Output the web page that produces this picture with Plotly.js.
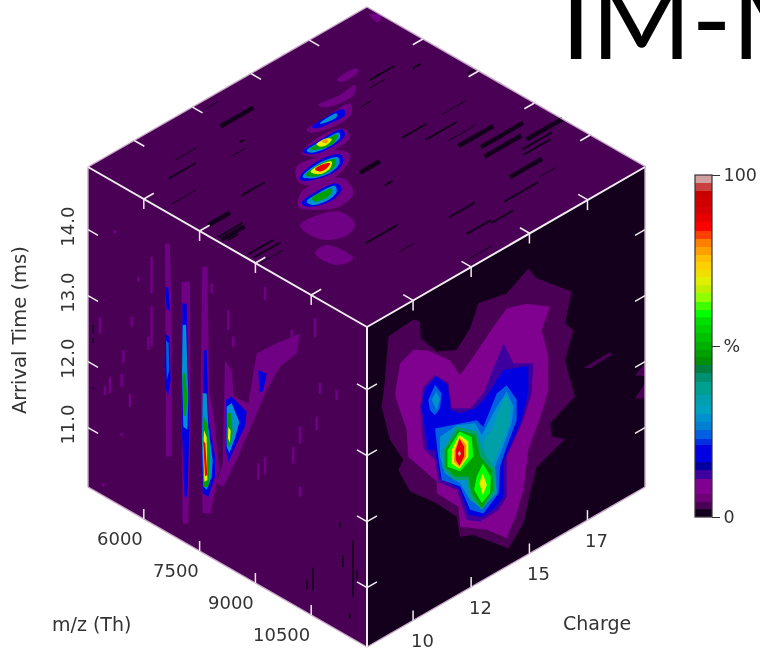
<!DOCTYPE html>
<html><head><meta charset="utf-8">
<script src="https://cdn.plot.ly/plotly-3.0.1.min.js"></script>
<style>html,body{margin:0;padding:0;background:#fff;overflow:hidden}#p{width:760px;height:650px;filter:blur(0.6px)}</style>
</head><body><div id="p"></div>
<script>
// Axis extents
const mzRange=[4500,12000], chargeRange=[8.15,19.31], timeRange=[10.1,14.95];
const mzTicks=[6000,7500,9000,10500];
const chargeTicks=[10,12.33,14.67,17], chargeLabels=['10','12','15','17'];
const timeTicks=[11,12,13,14], timeLabels=['11.0','12.0','13.0','14.0'];

// Colour bar
const bandEdges=[0,2.4,4.4,6.8,11.2,13.7,16.1,21,22.9,25.4,27.8,30.2,32.7,35.6,39.5,42,44.4,46.8,48.8,51.2,53.7,56.1,58.5,60.5,62.9,65.4,67.8,70.2,72.2,74.6,76.7,79,81.2,83.7,86.3,88.5,90.7,93.2,95.3,97.6,100];
const bandColors=['#14001c','#4a0055','#700078','#800090','#3d009f','#0000a0','#0000e0','#0030e0','#0060e0','#0080d0','#0090d0','#00a0c0','#00a0b0','#00a090','#009070','#008040','#009000','#00a000','#00b000','#00c000','#00d000','#00e000','#00ff00','#40ff00','#90ff00','#c0f000','#e0f000','#f0e000','#ffd000','#ffc000','#ffa000','#ff8000','#ff4000','#ff0000','#e80000','#d80000','#d00000','#c80000','#c84040','#d0a0a0'];

// Charge / arrival time contours, [charge, ms]
const ctOuter=[[[9.01,14.62],[10.01,14.66],[10.28,14.57],[10.31,14.31],[10.95,13.97],[11.75,13.82],[12.29,14.03],[12.62,14.34],[13.76,14.24],[14.63,14.43],[14.96,14.21],[16.37,13.70],[16.10,13.28],[16.44,13.10],[16.10,12.72],[16.50,12.08],[15.50,11.89],[15.57,11.68],[16.10,11.52],[14.96,11.35],[14.70,11.01],[14.43,10.61],[13.83,10.36],[12.42,10.87],[11.89,10.96],[11.75,11.29],[10.95,11.67],[9.88,12.08],[9.41,12.51],[9.61,12.62],[9.07,13.04],[8.74,13.61],[8.87,13.99]],
 [[16.84,12.44],[17.91,12.45],[17.98,12.39],[17.11,12.38]],
 [[18.91,11.88],[19.31,11.97],[19.31,11.78]],
 [[18.91,11.53],[19.31,11.67],[19.31,11.44]]];
const ctPurple=[[[9.48,14.11],[10.01,14.20],[10.61,14.06],[11.48,13.72],[11.89,13.41],[12.42,13.57],[13.22,13.85],[13.76,14.01],[14.56,13.91],[15.50,13.66],[15.16,13.38],[15.43,12.92],[15.43,12.41],[15.16,12.12],[14.63,11.68],[14.43,11.12],[14.16,10.82],[13.76,10.53],[12.96,10.83],[11.89,11.11],[11.82,11.43],[10.95,11.82],[10.95,12.00],[9.81,12.62],[9.74,13.04],[9.34,13.58],[9.28,13.70]]];
const ctIndigo=[[[10.28,13.28],[10.41,13.55],[10.88,13.63],[11.42,13.39],[11.55,12.98],[12.29,12.82],[12.82,12.93],[13.63,13.51],[14.03,13.12],[14.83,12.95],[14.76,12.51],[14.43,12.18],[13.76,11.77],[13.76,11.16],[13.43,11.03],[12.69,11.01],[12.15,11.16],[11.75,11.70],[11.01,11.98],[10.88,12.34],[10.41,12.62]]];
const ctBlue=[[[10.35,13.24],[10.48,13.51],[10.95,13.59],[11.38,13.37],[11.51,12.96],[11.89,12.83],[12.49,12.77],[12.89,12.84],[13.63,13.11],[14.63,12.95],[14.63,12.54],[14.30,12.15],[13.63,11.74],[13.63,11.19],[13.29,11.09],[12.76,11.07],[12.22,11.22],[11.89,11.67],[11.08,12.04],[10.88,12.49],[10.61,12.55]]];
const ctMidBlue=[[[10.61,13.31],[10.88,13.48],[11.15,13.29],[11.08,13.08],[10.88,13.02],[10.68,13.14]],
 [[10.88,12.82],[11.89,12.68],[12.55,12.58],[12.82,12.42],[13.36,12.81],[13.76,12.85],[14.16,12.54],[14.16,12.23],[13.76,11.92],[13.49,11.67],[13.43,11.28],[12.82,11.11],[12.29,11.28],[11.89,11.72],[11.15,11.98],[11.01,12.36]]];
const ctTeal=[[[10.75,13.28],[10.92,13.37],[11.08,13.23],[10.95,13.08]],
 [[11.08,12.65],[11.75,12.68],[12.49,12.55],[12.76,12.31],[13.36,12.61],[13.76,12.75],[14.03,12.47],[13.96,12.23],[13.56,11.91],[13.29,11.72],[13.36,11.30],[12.76,11.20],[12.29,11.43],[11.89,11.77],[11.28,12.05],[11.08,12.35]]];
const ctTealCore=[[[13.16,12.30],[13.49,12.58],[13.73,12.71],[13.92,12.49],[13.87,12.25],[13.49,11.98],[13.22,11.78],[12.85,11.96],[12.85,12.22]]];
const ctSeaGreen=[[[11.19,12.42],[11.75,12.66],[12.55,12.41],[12.85,12.01],[13.29,11.69],[13.33,11.33],[12.76,11.18],[12.29,11.45],[12.15,11.76],[11.62,11.88],[11.19,12.15]]];
const ctGreen=[[[11.28,12.40],[11.82,12.59],[12.49,12.37],[12.69,12.00],[13.16,11.69],[13.22,11.38],[12.76,11.20],[12.35,11.52],[12.22,11.80],[11.69,11.91],[11.28,12.15]]];
const ctLime=[[[11.38,12.38],[11.86,12.56],[12.35,12.37],[12.42,12.06],[11.89,11.95],[11.38,12.13]],
 [[12.55,11.72],[12.80,11.87],[13.12,11.60],[13.09,11.36],[12.76,11.28],[12.45,11.55]]];
const ctYellow=[[[11.55,12.35],[11.86,12.51],[12.22,12.33],[12.22,12.10],[11.86,11.99],[11.55,12.14]],
 [[12.66,11.60],[12.80,11.72],[12.96,11.51],[12.80,11.39]]];
const ctOrange=[[[11.66,12.32],[11.86,12.47],[12.13,12.30],[12.13,12.12],[11.86,12.02],[11.64,12.15]]];
const ctRed=[[[11.71,12.31],[11.86,12.45],[12.05,12.29],[12.05,12.14],[11.86,12.04],[11.71,12.16]]];
const ctPeak=[[[11.79,12.24],[11.86,12.27],[11.93,12.21],[11.86,12.18]]];

// m/z / arrival time contours, [m/z, ms]
const mtPurple=[[[6570,14.46],[6704,14.50],[6749,13.21],[6749,11.29],[6597,11.24],[6570,13.15]],
 [[7018,14.02],[7242,14.10],[7260,11.86],[7197,10.42],[7045,10.37],[7018,11.78]],
 [[7573,14.43],[7708,14.47],[7761,12.62],[7887,12.26],[8030,11.50],[7797,10.77],[7582,10.70],[7529,12.55]],
 [[8183,13.21],[8362,13.12],[8425,12.74],[8810,12.76],[9034,13.59],[9571,13.92],[10199,14.27],[10109,13.94],[9661,13.59],[9303,13.12],[8765,12.24],[8496,11.80],[8138,11.28],[7959,11.27],[8120,11.63],[8156,12.65]]];
const mtBlue=[[[6570,13.80],[6659,13.83],[6704,13.49],[6615,13.47]],
 [[6579,13.10],[6686,13.08],[6722,12.44],[6659,12.19],[6570,12.29],[6561,12.64]],
 [[7036,13.70],[7152,13.74],[7224,11.84],[7170,10.82],[7098,10.79],[7027,11.73]],
 [[7618,13.18],[7690,13.21],[7735,12.21],[7914,11.66],[7914,11.36],[7735,11.00],[7582,11.00],[7555,11.70],[7600,12.57]],
 [[8209,12.62],[8362,12.72],[8765,12.62],[8720,12.38],[8496,12.05],[8272,11.70],[8209,11.86]],
 [[9079,13.35],[9303,13.37],[9213,13.09],[9105,13.01]]];
const mtMidBlue=[[[6597,13.00],[6668,12.98],[6686,12.58],[6615,12.40]]];
const mtTeal=[[[7045,13.38],[7134,13.41],[7197,12.34],[7170,11.83],[7063,11.84],[7027,12.64]],
 [[7582,12.52],[7690,12.55],[7735,12.06],[7851,11.59],[7824,11.33],[7690,11.09],[7600,11.11],[7564,11.75]],
 [[8227,12.52],[8362,12.62],[8568,12.40],[8451,12.12],[8299,11.84],[8227,11.92]]];
const mtGreen=[[[7045,12.64],[7116,12.67],[7170,12.33],[7134,12.02],[7063,12.02]],
 [[7600,12.17],[7708,12.10],[7779,11.62],[7735,11.15],[7618,11.11],[7582,11.76]],
 [[8245,12.43],[8335,12.46],[8389,12.17],[8299,11.91],[8227,12.02]]];
const mtYellow=[[[7618,11.97],[7690,11.89],[7708,11.24],[7627,11.19],[7600,11.66]],
 [[8272,12.23],[8335,12.20],[8317,12.00],[8263,12.05]]];
const mtRed=[[[7600,11.81],[7654,11.78],[7708,11.32],[7645,11.28],[7618,11.57]]];
// single-column runs, [m/z, ms from, ms to]
const mtPurpleRuns=[[6211,14.14,13.59],[6211,13.39,12.78],[7645,14.35,13.80],[4823,12.78,12.53],[5450,12.48,12.28],[5853,13.72,13.65],[9258,14.67,14.47],[10602,14.63,14.35],[10736,13.69,13.53],[11184,13.73,13.58],[10199,12.86,12.60],[10647,13.15,12.95],[10019,12.49,12.24],[10199,11.95,11.80],[9258,12.10,11.84],[5629,11.88,11.68],[4957,11.77,11.64],[5405,11.21,11.16],[5091,11.96,11.71],[5405,12.11,11.91],[5674,13.06,12.91],[9975,14.25,13.99],[8272,14.00,13.70],[7824,14.26,14.11],[8406,13.64,13.49],[9079,11.94,11.69],[4912,10.29,10.24],[6122,12.90,12.70],[5226,14.23,14.18]];
const mtBlackRuns=[[4634,12.60,12.48],[4634,12.40,12.33],[4634,11.65,11.62],[10548,10.84,10.49],[11623,11.60,10.74],[11354,11.28,11.10],[11274,11.75,11.68],[11543,10.46,10.39],[11731,11.18,11.02],[10387,10.59,10.46]];

// m/z / charge contours, [m/z, charge]
const mcPurple=[[[5804,16.16],[5798,16.96],[5899,16.88],[5932,16.23]],
 [[6143,14.92],[6199,15.70],[6167,16.35],[6362,16.06],[6395,15.41],[6264,14.94]],
 [[6572,13.81],[6528,14.68],[6530,15.61],[6786,15.29],[6858,14.59],[6702,13.82]],
 [[7052,12.90],[6902,13.72],[7026,14.60],[7311,14.45],[7410,13.90],[7287,13.02]],
 [[7297,12.33],[7326,12.96],[7444,13.71],[7741,13.81],[8002,13.15],[8041,12.16],[7671,11.84]],
 [[7950,11.56],[7963,12.28],[8197,12.86],[8684,12.54],[8817,11.81],[8537,11.16],[8257,10.97]],
 [[8709,10.37],[8693,10.92],[8934,11.63],[9409,11.52],[9577,11.08],[9464,10.44],[9162,10.23],[8809,10.28]],
 [[9574,9.68],[9536,10.20],[10207,10.27],[10140,9.70]],
 [[4700,19.10],[5000,19.00],[4900,19.30]]];
const mcBlue=[[[6562,14.03],[6528,14.68],[6580,15.27],[6736,15.10],[6729,14.51],[6668,14.07]],
 [[7026,12.98],[6986,13.73],[7027,14.54],[7205,14.40],[7304,13.86],[7232,13.10]],
 [[7583,12.02],[7449,12.91],[7590,13.63],[7807,13.44],[7929,12.93],[7834,12.20],[7692,11.95]],
 [[8208,11.18],[8146,11.74],[8226,12.55],[8410,12.48],[8554,12.00],[8488,11.36],[8331,11.13]]];
const mcTeal=[[[6595,14.31],[6585,14.99],[6663,14.88],[6639,14.38]],
 [[7056,13.09],[7030,13.80],[7073,14.37],[7192,14.22],[7261,13.72],[7171,13.12]],
 [[7612,12.10],[7510,12.88],[7638,13.49],[7792,13.30],[7886,12.79],[7772,12.23]],
 [[8251,11.31],[8207,11.78],[8265,12.43],[8421,12.26],[8504,11.80],[8419,11.33]]];
const mcGreen=[[[7070,13.20],[7053,13.83],[7093,14.24],[7226,13.97],[7225,13.51]],
 [[7617,12.23],[7549,12.89],[7640,13.36],[7796,13.12],[7841,12.72],[7733,12.28]],
 [[8241,11.53],[8241,12.00],[8275,12.28],[8409,12.01],[8414,11.67],[8363,11.48]]];
const mcYellow=[[[7035,13.52],[7036,13.92],[7126,13.99],[7192,13.69],[7142,13.50]],
 [[7602,12.44],[7571,12.93],[7650,13.21],[7784,12.94],[7783,12.54]]];
const mcOrange=[[[7047,13.71],[7068,13.90],[7153,13.75]]];
const mcRed=[[[7606,12.61],[7593,12.96],[7667,13.12],[7739,12.88],[7728,12.63]]];
// zero-intensity runs on the m/z-charge face, [m/z, charge from, charge to]
const mcBlackFine=[[4714,12.55,13.03],[5512,10.12,11.00],[6493,8.52,9.52],[6177,11.39,11.99],[6438,16.53,17.13],[6759,15.67,16.15],[8730,16.26,17.38],[10799,16.84,17.52],[11774,12.61,13.49],[10673,11.39,11.99],[8026,17.12,18.04],[9070,8.17,9.17]];
const mcBlackMid=[[5857,9.35,10.43],[7234,10.22,11.14],[5961,12.04,12.24],[7885,8.29,9.29],[8090,8.41,8.81],[8700,8.32,9.32],[8852,8.30,9.38],[6248,16.81,17.81],[6555,18.09,18.41],[8037,15.43,16.43],[8400,15.85,17.09],[9926,17.44,18.64],[10066,17.28,18.38],[10906,15.26,16.62],[10535,13.61,14.65],[11161,13.38,14.38],[11236,14.25,15.13],[10021,11.05,12.33],[8920,13.45,13.77],[7411,19.03,19.31]];
const mcBlackWide=[[5331,12.21,13.53],[7480,8.52,9.40],[7996,8.29,9.21],[8988,16.29,17.69],[9314,16.71,18.39],[9586,16.44,17.92],[9751,17.88,19.31],[10410,16.24,17.52],[8290,13.39,14.19]];

const C={outer:'#4a0055',base:'#14001c',purple:'#800090',halo:'#700084',indigo:'#3d009f',blue:'#0000e0',mid:'#0060e0',teal:'#0090d0',core:'#00a0a8',sea:'#00a070',green:'#00a000',lime:'#00ff00',yellow:'#e8f000',orange:'#ff9000',red:'#e80000',peak:'#d0a0a0',edge:'#c8a8c8',axis:'#eeeeee'};

// projection of the three cube faces on to the page
const [m0,m1]=mzRange,[c0,c1]=chargeRange,[t0,t1]=timeRange;
const pxTime=320/(t1-t0);
const fm=m=>(m-m0)/(m1-m0), fc=c=>(c-c0)/(c1-c0);
const pLeft=(m,t)=>[88+279*fm(m),487+160*fm(m)-(t-t0)*pxTime];
const pRight=(c,t)=>[367+278*fc(c),647-160*fc(c)-(t-t0)*pxTime];
const pTop=(m,c)=>[88+279*(fm(m)+fc(c)),167+160*(fm(m)-fc(c))];

const data=[];
function fillRings(rings,proj,color,round){
  const x=[],y=[];
  rings.forEach(r=>{r.forEach(p=>{const q=proj(p[0],p[1]);x.push(q[0]);y.push(q[1]);});
    const q=proj(r[0][0],r[0][1]);x.push(q[0],null);y.push(q[1],null);});
  data.push({type:'scatter',mode:'lines',x,y,fill:'toself',fillcolor:color,
    line:Object.assign({width:0,color},round?{shape:'spline',smoothing:1}:{}),hoverinfo:'skip',showlegend:false});
}
function segs(list,color,width){
  const x=[],y=[];
  list.forEach(s=>{x.push(s[0][0],s[1][0],null);y.push(s[0][1],s[1][1],null);});
  data.push({type:'scatter',mode:'lines',x,y,line:{color,width},hoverinfo:'skip',showlegend:false});
}
// faces
fillRings([[[m0,t0],[m1,t0],[m1,t1],[m0,t1]]],pLeft,C.outer);
fillRings([[[c0,t0],[c1,t0],[c1,t1],[c0,t1]]],pRight,C.base);
fillRings([[[m0,c0],[m1,c0],[m1,c1],[m0,c1]]],pTop,C.outer);
// charge-time face
[[ctOuter,C.outer],[ctPurple,C.purple],[ctIndigo,C.indigo],[ctBlue,C.blue],[ctMidBlue,C.mid],[ctTeal,C.teal],[ctTealCore,C.core],[ctSeaGreen,C.sea],[ctGreen,C.green],[ctLime,C.lime],[ctYellow,C.yellow],[ctOrange,C.orange],[ctRed,C.red],[ctPeak,C.peak]].forEach(l=>fillRings(l[0],pRight,l[1]));
// m/z-time face
segs(mtPurpleRuns.map(r=>[pLeft(r[0],r[1]),pLeft(r[0],r[2])]),C.halo,2.5);
segs(mtBlackRuns.map(r=>[pLeft(r[0],r[1]),pLeft(r[0],r[2])]),C.base,1.6);
[[mtPurple,C.halo],[mtBlue,C.blue],[mtMidBlue,C.mid],[mtTeal,C.teal],[mtGreen,C.green],[mtYellow,C.yellow],[mtRed,C.red]].forEach(l=>fillRings(l[0],pLeft,l[1]));
// m/z-charge face
[[mcBlackFine,1],[mcBlackMid,1.9],[mcBlackWide,4.5]].forEach(g=>segs(g[0].map(r=>[pTop(r[0],r[1]),pTop(r[0],r[2])]),C.base,g[1]));
[[mcPurple,C.halo],[mcBlue,C.blue],[mcTeal,C.teal],[mcGreen,C.green],[mcYellow,C.yellow],[mcOrange,C.orange],[mcRed,C.red]].forEach(l=>fillRings(l[0],pTop,l[1],true));

// outer edges
const outer=[[pLeft(m0,t0),pLeft(m0,t1)],[pLeft(m0,t0),pLeft(m1,t0)],[pRight(c0,t0),pRight(c1,t0)],[pRight(c1,t0),pRight(c1,t1)],[pTop(m0,c0),pTop(m0,c1)],[pTop(m0,c1),pTop(m1,c1)]];
segs(outer,C.edge,1.4);
// ticks
const dT=10/pxTime, dM=270, dC=0.4, ticks=[];
mzTicks.forEach(m=>{
  ticks.push([pLeft(m,t0),pLeft(m,t0+dT)],[pLeft(m,t1),pLeft(m,t1-dT)],[pTop(m,c0),pTop(m,c0+dC)],[pTop(m,c1),pTop(m,c1-dC)]);
});
chargeTicks.forEach(c=>{
  ticks.push([pRight(c,t0),pRight(c,t0+dT)],[pRight(c,t1),pRight(c,t1-dT)],[pTop(m1,c),pTop(m1-dM,c)],[pTop(m0,c),pTop(m0+dM,c)]);
});
timeTicks.forEach(t=>{
  ticks.push([pLeft(m0,t),pLeft(m0+dM,t)],[pLeft(m1,t),pLeft(m1-dM,t)],[pRight(c0,t),pRight(c0+dC,t)],[pRight(c1,t),pRight(c1-dC,t)]);
});
segs(ticks,C.axis,1.5);
// inner edges
segs([[pLeft(m0,t1),pLeft(m1,t1)],[pRight(c0,t1),pRight(c1,t1)],[pRight(c0,t0),pRight(c0,t1)]],C.axis,2);

// colour bar carrier
const scale=[];
bandColors.forEach((col,i)=>{scale.push([bandEdges[i]/100,col],[bandEdges[i+1]/100,col]);});
data.push({type:'heatmap',x:[-50,-40],y:[-50,-40],z:[[0,100],[0,100]],zmin:0,zmax:100,colorscale:scale,hoverinfo:'skip',
  colorbar:{x:695/760,xanchor:'left',xpad:0,y:1-175/650,yanchor:'top',ypad:0,lenmode:'pixels',len:342,thicknessmode:'pixels',thickness:17,
    outlinecolor:'#333',outlinewidth:1.2,tickvals:[0,50,100],ticktext:['0','%','100'],ticks:'outside',ticklen:8,tickcolor:'#333',
    tickfont:{family:'DejaVu Sans',size:17.5,color:'#333'}}});

// text
const font={family:'DejaVu Sans',size:18,color:'#333'};
const font2={family:'DejaVu Sans',size:19,color:'#333'};
const lab=(x,y,text,extra)=>Object.assign({xref:'x',yref:'y',x,y,text,showarrow:false,font,xanchor:'center',yanchor:'middle'},extra||{});
const ann=[];
mzTicks.forEach(m=>{const p=pLeft(m,t0);ann.push(lab(p[0]-(m>10000?30:24),p[1]+19,String(m)));});
chargeTicks.forEach((c,i)=>{const p=pRight(c,t0);ann.push(lab(p[0]+9,p[1]+20,chargeLabels[i]));});
timeTicks.forEach((t,i)=>{const p=pLeft(m0,t);ann.push(lab(p[0]-20,p[1]-3,timeLabels[i],{textangle:-90}));});
ann.push(lab(91,624,'m/z (Th)',{font:font2}),lab(597,623,'Charge',{font:font2}),lab(19,330,'Arrival Time (ms)',{textangle:-90,font:{family:'DejaVu Sans',size:19.5,color:'#333'}}));
ann.push({xref:'x',yref:'y',x:559,y:84,text:'IM-M',showarrow:false,xanchor:'left',yanchor:'bottom',font:{family:'Lato',size:108,color:'#000'}});

Plotly.newPlot('p',data,{
  width:760,height:650,margin:{l:0,r:0,t:0,b:0},paper_bgcolor:'#fff',plot_bgcolor:'#fff',showlegend:false,
  xaxis:{range:[0,760],visible:false,fixedrange:true},
  yaxis:{range:[650,0],visible:false,fixedrange:true},
  annotations:ann
},{displayModeBar:false,staticPlot:true});
</script></body></html>
